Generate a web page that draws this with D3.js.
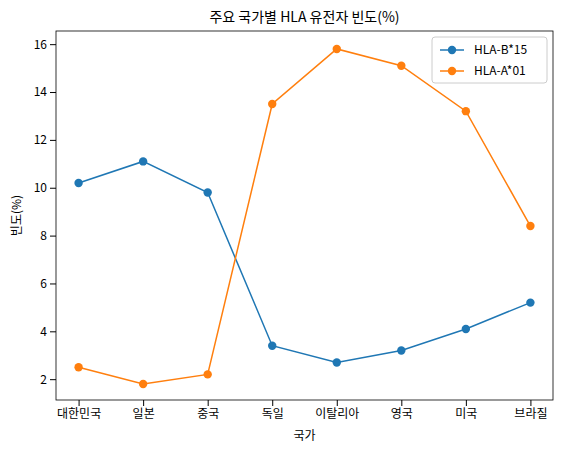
<!DOCTYPE html>
<html><head><meta charset="utf-8">
<script src="https://cdn.jsdelivr.net/npm/d3@7"></script>
<style>body{margin:0;background:#fff}text{font-family:"Noto Sans CJK KR","Noto Sans",sans-serif}</style>
</head><body><div id="chart"></div>
<script>
const countries = ["대한민국","일본","중국","독일","이탈리아","영국","미국","브라질"];
const hlaB15 = [10.2,11.1,9.8,3.4,2.7,3.2,4.1,5.2];
const hlaA01 = [2.5,1.8,2.2,13.5,15.8,15.1,13.2,8.4];
const yTicks = [2,4,6,8,10,12,14,16];
const series = [
  {name:"HLA-B*15", values:hlaB15, color:"#1f77b4"},
  {name:"HLA-A*01", values:hlaA01, color:"#ff7f0e"}
];

var margin = {top:31, right:8, bottom:54, left:56},
  width = 561 - margin.left - margin.right,
  height = 454 - margin.top - margin.bottom;

var svg = d3.select("#chart").append("svg")
  .attr("width", 561).attr("height", 454);
var g = svg.append("g").attr("transform","translate("+margin.left+","+margin.top+")");

var x = d3.scaleLinear().domain([-0.35, 7.35]).range([0, width]);
var y = d3.scaleLinear().domain([1.13, 16.55]).range([height, 0]);

var xAxis = g.append("g").attr("transform","translate(0,"+height+")")
  .call(d3.axisBottom(x).tickValues(d3.range(countries.length)).tickFormat(i => countries[i]).tickSizeOuter(0));
var yAxis = g.append("g").call(d3.axisLeft(y).tickValues(yTicks).tickFormat(d3.format("d")).tickSizeOuter(0));
[xAxis, yAxis].forEach(a => { a.selectAll("text").attr("font-size","12px").attr("fill","#000"); a.select(".domain").remove(); });

g.append("rect").attr("width",width).attr("height",height).attr("fill","none").attr("stroke","#000").attr("stroke-width",0.8);

var line = d3.line().x((d,i) => x(i)).y(d => y(d));
series.forEach(s => {
  g.append("path").datum(s.values).attr("d", line).attr("fill","none").attr("stroke", s.color).attr("stroke-width",1.5);
  g.selectAll(null).data(s.values).enter().append("circle")
    .attr("cx",(d,i)=>x(i)).attr("cy",d=>y(d)).attr("r",4.2).attr("fill",s.color);
});

// legend
var lg = g.append("g").attr("transform","translate("+(width-121)+",6)");
lg.append("rect").attr("width",115).attr("height",46).attr("rx",3).attr("fill","#fff").attr("stroke","#ccc");
series.forEach((s,i) => {
  var row = lg.append("g").attr("transform","translate(8,"+(13+i*21)+")");
  row.append("line").attr("x1",0).attr("x2",24).attr("stroke",s.color).attr("stroke-width",1.5);
  row.append("circle").attr("cx",12).attr("r",4.2).attr("fill",s.color);
  row.append("text").attr("x",34).attr("dy","0.35em").attr("font-size","12px").text(s.name);
});

svg.append("text").attr("x", margin.left + width/2).attr("y", 22).attr("text-anchor","middle").attr("font-size","14px").text("주요 국가별 HLA 유전자 빈도(%)");
svg.append("text").attr("x", margin.left + width/2).attr("y", 440).attr("text-anchor","middle").attr("font-size","12px").text("국가");
svg.append("text").attr("transform","translate(21,"+(margin.top+height/2)+") rotate(-90)").attr("text-anchor","middle").attr("font-size","12px").text("빈도(%)");
</script></body></html>
